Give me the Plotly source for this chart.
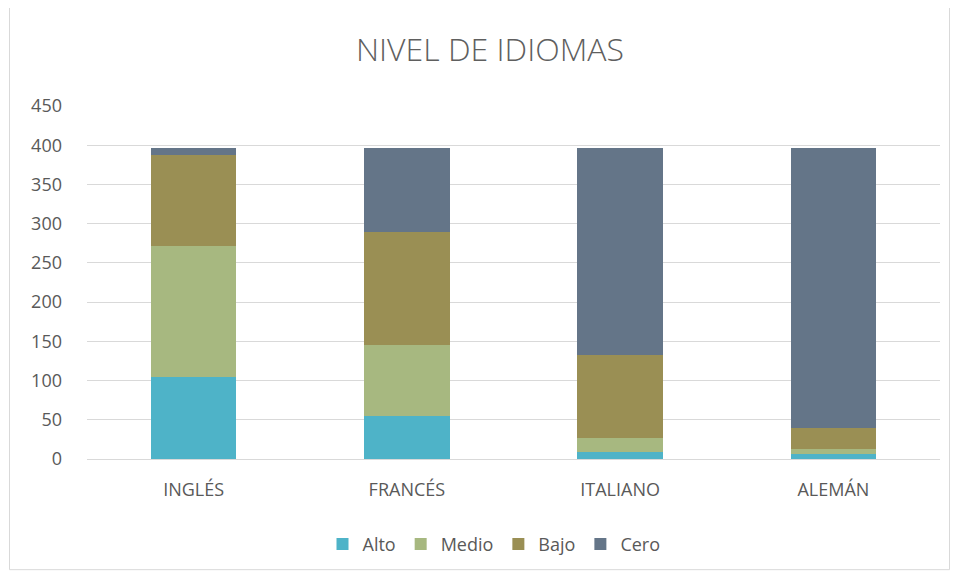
import plotly.graph_objects as go

categories = ["INGLÉS", "FRANCÉS", "ITALIANO", "ALEMÁN"]
alto = [104, 55, 9, 7]
medio = [168, 90, 18, 6]
bajo = [115, 144, 105, 26]
cero = [9, 107, 264, 357]
series_names = ["Alto", "Medio", "Bajo", "Cero"]
colors = ["#4EB3C8", "#A7B880", "#9A8F54", "#647588"]

OFF = 8  # default page body margin
W, H = 958 - OFF, 577 - OFF
L = 87 - OFF
T = 105.5 - OFF
R = W - (940 - OFF)
B = H - (459.5 - OFF)
pw, ph = W - L - R, H - T - B

fig = go.Figure()
for name, vals, c in zip(series_names, [alto, medio, bajo, cero], colors):
    fig.add_trace(go.Bar(x=categories, y=vals, name=name, marker=dict(color=c, line=dict(width=0))))

def px2x(p):
    return (p - OFF - L) / pw

def px2y(p):
    return (H - B - (p - OFF)) / ph

fig.add_shape(type="rect", xref="paper", yref="paper",
              x0=px2x(9.5), x1=px2x(949.5), y0=px2y(570.5), y1=px2y(6.5),
              line=dict(color="#D9D9D9", width=1), fillcolor="rgba(0,0,0,0)", layer="below")

fig.update_layout(
    width=W, height=H,
    margin=dict(l=L, r=R, t=T, b=B),
    barmode="stack", bargap=0.6,
    paper_bgcolor="white", plot_bgcolor="white",
    font=dict(family="Open Sans, Lato, sans-serif", color="#595959", size=18),
    title=dict(text="NIVEL DE IDIOMAS", x=px2x(490), xanchor="center", xref="paper",
               y=1 - (50 - OFF) / H, yanchor="middle",
               font=dict(size=32, color="#5f5f5f", family="Open Sans, sans-serif", weight=300)),
    xaxis=dict(showline=True, linecolor="#D9D9D9", linewidth=1, ticks="", tickfont=dict(size=18),
               ticklabelstandoff=14),
    yaxis=dict(range=[0, 450], dtick=50, showgrid=True, gridcolor="#D9D9D9", gridwidth=1,
               zeroline=False, ticks="", tickfont=dict(size=18), ticklabelstandoff=24),
    legend=dict(orientation="h", x=px2x(494), xanchor="center", y=px2y(545), yanchor="middle",
                font=dict(size=18), traceorder="normal", itemwidth=30),
    showlegend=True,
)

fig.write_html("out.html")
